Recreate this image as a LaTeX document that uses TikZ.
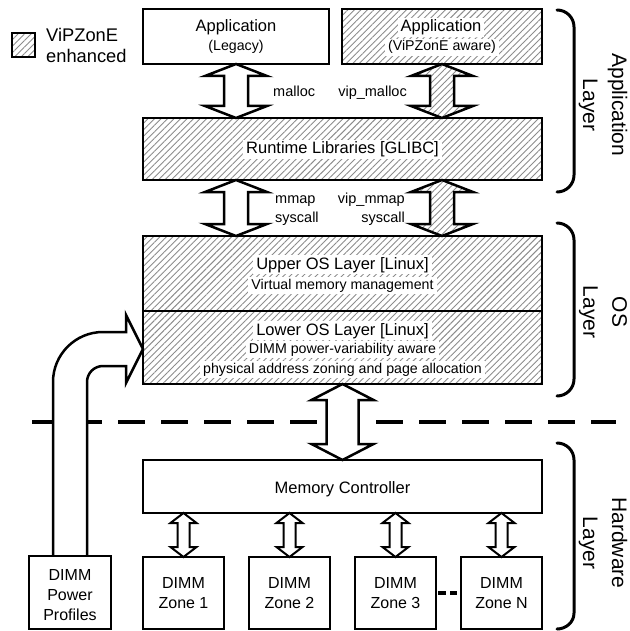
\documentclass[tikz,border=0pt]{standalone}
\usepackage{fontspec}
\setmainfont{Liberation Sans}
\usetikzlibrary{calc,patterns.meta}
\newcommand{\vzA}{\fontsize{16.5}{19}\selectfont}
\newcommand{\vzB}{\fontsize{14.2}{17}\selectfont}
\newcommand{\vzC}{\fontsize{14.5}{17}\selectfont}
\newcommand{\vzD}{\fontsize{16}{19}\selectfont}
\newcommand{\vzE}{\fontsize{18.3}{21}\selectfont}
\newcommand{\vzF}{\fontsize{21}{29}\selectfont}
% #1 style, #2 top point, #3 bottom point, #4 head half width, #5 shaft half width, #6 head height
\newcommand{\vzarrow}[6]{%
  \draw[#1] let \p1=(#2), \p2=(#3) in
   (\x1,\y1) -- (\x1+#4pt,\y1-#6pt) -- (\x1+#5pt,\y1-#6pt) -- (\x1+#5pt,\y2+#6pt)
   -- (\x1+#4pt,\y2+#6pt) -- (\x1,\y2) -- (\x1-#4pt,\y2+#6pt) -- (\x1-#5pt,\y2+#6pt)
   -- (\x1-#5pt,\y1-#6pt) -- (\x1-#4pt,\y1-#6pt) -- cycle;}
\begin{document}
\begin{tikzpicture}[x=1pt,y=-1pt,
  box/.style={draw, line width=2.6pt, outer sep=0pt, inner sep=0pt, fill=white},
  hbox/.style={draw, line width=2.6pt, outer sep=0pt, inner sep=0pt,
    pattern={Lines[angle=45,distance=4.6pt,line width=0.9pt]}, pattern color=black!45},
  txt/.style={inner sep=0pt, anchor=base},
  wtxt/.style={fill=white, inner xsep=3pt, inner ysep=2pt, anchor=base},
  fat/.style={line width=2.5pt, fill=white},
  hfat/.style={line width=2.5pt, pattern={Lines[angle=45,distance=4.6pt,line width=0.9pt]}, pattern color=black!45},
  small/.style={line width=2pt, fill=white},
  sep/.style={line width=3.5pt, dash pattern=on 27pt off 16pt},
  brace/.style={line width=3pt, line cap=round},
  dots/.style={line width=3.5pt, dash pattern=on 8pt off 4pt}]
\useasboundingbox (0,0) rectangle (629,631);

% legend
\node[hbox, minimum width=23pt, minimum height=24pt] (legend) at (23.5,45) {};
\node[txt, anchor=base west, font=\vzE] (legt1) at (46,42) {ViPZonE};
\node[txt, anchor=base west, font=\vzE] (legt2) at (46,63) {enhanced};

% boxes
\node[box, minimum width=186pt, minimum height=55pt] (legacy) at (236,36.5) {};
\node[hbox, minimum width=200pt, minimum height=55pt] (aware) at (442,36.5) {};
\node[hbox, minimum width=399pt, minimum height=62pt] (runtime) at (342.5,149) {};
\node[hbox, minimum width=399pt, minimum height=75pt] (upperos) at (342.5,273.5) {};
\node[hbox, minimum width=399pt, minimum height=73pt] (loweros) at (342.5,347.5) {};
\node[box, minimum width=399pt, minimum height=53pt] (mc) at (342.5,486.5) {};
\node[box, minimum width=81pt, minimum height=72pt] (zone1) at (183.5,593) {};
\node[box, minimum width=81pt, minimum height=72pt] (zone2) at (289.5,593) {};
\node[box, minimum width=81pt, minimum height=72pt] (zone3) at (395.5,593) {};
\node[box, minimum width=81pt, minimum height=72pt] (zoneN) at (501.5,593) {};

% separator
\coordinate (sepL) at (32,422);
\coordinate (sepR) at (616,422);
\draw[sep] (sepL) -- (sepR);

% fat arrows
\vzarrow{fat}{legacy.south}{runtime.north -| legacy.south}{31}{12}{12}
\vzarrow{hfat}{aware.south}{runtime.north -| aware.south}{31}{12}{12}
\vzarrow{fat}{runtime.south -| legacy.south}{upperos.north -| legacy.south}{31}{12}{12}
\vzarrow{hfat}{runtime.south -| aware.south}{upperos.north -| aware.south}{31}{12}{12}
\vzarrow{fat}{loweros.south}{mc.north}{31}{16}{16}
\vzarrow{small}{mc.south -| zone1.north}{zone1.north}{13}{6}{10}
\vzarrow{small}{mc.south -| zone2.north}{zone2.north}{13}{6}{10}
\vzarrow{small}{mc.south -| zone3.north}{zone3.north}{13}{6}{10}
\vzarrow{small}{mc.south -| zoneN.north}{zoneN.north}{13}{6}{10}

% curved arrow from power profiles
\node[box, minimum width=82pt, minimum height=73pt] (dpp) at (70,592.5) {};
\coordinate (tip) at (loweros.west |- 0,349);
\draw[fat] (dpp.north -| 53,0) -- (53,382) arc[start angle=180, end angle=90, radius=50pt]
  -- (126,332) -- (126,315) -- (tip) -- (126,383) -- (126,366) -- (103,366)
  arc[start angle=90, end angle=180, radius=16pt] -- (dpp.north -| 87,0);
\draw[line width=2.6pt] (dpp.north west) -- (dpp.north east);

% dots between zones
\draw[dots] ([xshift=2pt]zone3.east) -- ([xshift=-4pt]zoneN.west);

% texts
\node[txt, font=\vzA] (legacyt1) at (236,32) {Application};
\node[txt, font=\vzB] (legacyt2) at (236,51) {(Legacy)};
\node[wtxt, font=\vzA] (awaret1) at (441,32) {Application};
\node[wtxt, font=\vzB] (awaret2) at (442,51) {(ViPZonE aware)};
\node[wtxt, font=\vzA] (runtimet) at (342.5,154) {Runtime Libraries [GLIBC]};
\node[wtxt, font=\vzA] (uppert1) at (342.5,269) {Upper OS Layer [Linux]};
\node[wtxt, font=\vzB] (uppert2) at (342.5,289) {Virtual memory management};
\node[wtxt, font=\vzA] (lowert1) at (342.5,335) {Lower OS Layer [Linux]};
\node[wtxt, font=\vzB] (lowert2) at (342.5,353) {DIMM power-variability aware};
\node[wtxt, font=\vzB] (lowert3) at (342.5,373) {physical address zoning and page allocation};
\node[txt, font=\vzA] (mct) at (342.5,493) {Memory Controller};
\node[txt, font=\vzD] (z1a) at (183.5,588) {DIMM};
\node[txt, font=\vzD] (z1b) at (183.5,608) {Zone 1};
\node[txt, font=\vzD] (z2a) at (289.5,588) {DIMM};
\node[txt, font=\vzD] (z2b) at (289.5,608) {Zone 2};
\node[txt, font=\vzD] (z3a) at (395.5,588) {DIMM};
\node[txt, font=\vzD] (z3b) at (395.5,608) {Zone 3};
\node[txt, font=\vzD] (zNa) at (501.5,588) {DIMM};
\node[txt, font=\vzD] (zNb) at (501.5,608) {Zone N};
\node[txt, font=\vzD] (dppa) at (70,580) {DIMM};
\node[txt, font=\vzD] (dppb) at (70,600) {Power};
\node[txt, font=\vzD] (dppc) at (70,620) {Profiles};

% arrow labels
\node[txt, anchor=base west, font=\vzC] (lmalloc) at (273,97) {malloc};
\node[txt, anchor=base east, font=\vzC] (lvipmalloc) at (407,97) {vip\_malloc};
\node[txt, anchor=base west, font=\vzC] (lmmap1) at (275,204) {mmap};
\node[txt, anchor=base west, font=\vzC] (lmmap2) at (275,222) {syscall};
\node[txt, anchor=base east, font=\vzC] (lvipmmap1) at (405,204) {vip\_mmap};
\node[txt, anchor=base east, font=\vzC] (lvipmmap2) at (405,222) {syscall};

% layer brackets
\draw[brace] (557,10) to[out=0,in=90] (574,27) -- (574,175) to[out=-90,in=0] (557,192);
\draw[brace] (557,223) to[out=0,in=90] (574,240) -- (574,379) to[out=-90,in=0] (557,396);
\draw[brace] (557,443) to[out=0,in=90] (574,460) -- (574,613) to[out=-90,in=0] (557,629);
\node[rotate=-90, align=center, font=\vzF, inner sep=0pt] (applbl) at (603,105) {Application\\Layer};
\node[rotate=-90, align=center, font=\vzF, inner sep=0pt] (oslbl) at (603,312) {OS\\Layer};
\node[rotate=-90, align=center, font=\vzF, inner sep=0pt] (hwlbl) at (603,543) {Hardware\\Layer};
\end{tikzpicture}
\end{document}
